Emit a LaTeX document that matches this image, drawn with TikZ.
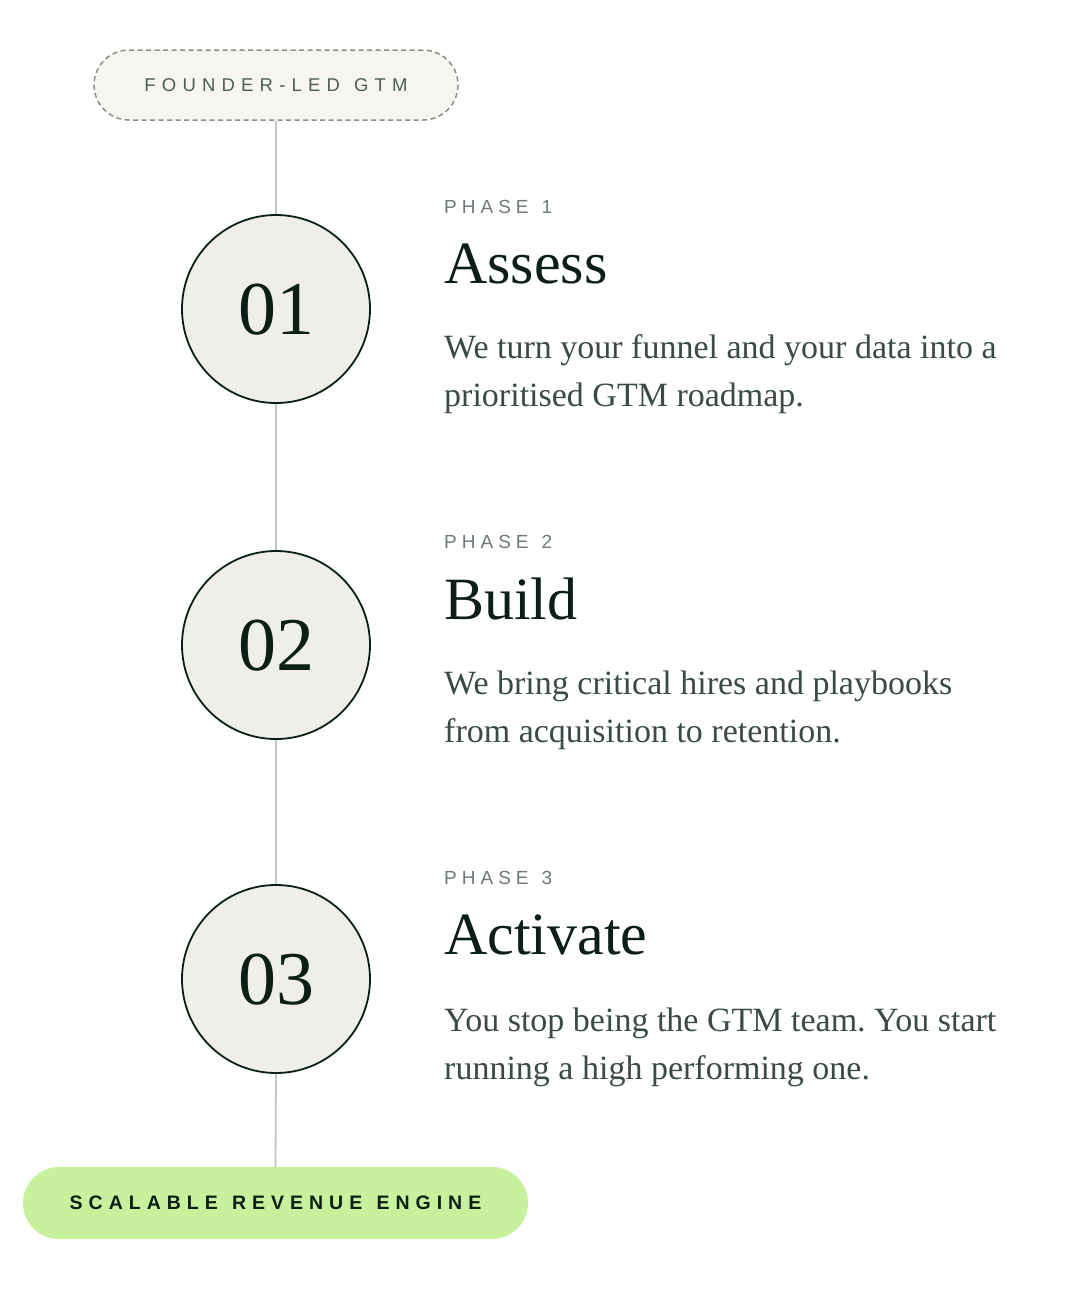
\documentclass[tikz,border=0pt]{standalone}
\usepackage{fontspec}
\setmainfont{Liberation Serif}
\newfontfamily\sansfam{Liberation Sans}
\definecolor{ink}{HTML}{0B1F17}
\definecolor{bodyc}{HTML}{3A4B45}
\definecolor{phasec}{HTML}{6E7B75}
\definecolor{tagc}{HTML}{4B5E52}
\definecolor{tagfill}{HTML}{F6F5F0}
\definecolor{tagline}{HTML}{8A8F88}
\definecolor{circfill}{HTML}{EFEEE9}
\definecolor{railc}{HTML}{C4C6C4}
\definecolor{green}{HTML}{C7F19D}
\newdimen\lskd
\newcommand{\setls}[1]{\lskd #1\relax}
\def\ls#1{\lsA#1\relax}
\def\lsA#1{\ifx\relax#1\else#1\kern\lskd\expandafter\lsA\fi}
\newcommand{\wsp}{\hspace{0.42em}}
\tikzset{
  tagpill/.style={draw=tagline, fill=tagfill, line width=1.5pt, dash pattern=on 5pt off 3.5pt,
    rounded corners=35pt, minimum width=364pt, minimum height=70pt, inner sep=0pt,
    text=tagc, font={\sansfam\fontsize{18.5}{20}\selectfont\setls{6.2pt}}},
  enginepill/.style={fill=green, rounded corners=36pt, minimum width=505pt, minimum height=72pt,
    inner sep=0pt, text=ink, font={\sansfam\bfseries\fontsize{19.5}{22}\selectfont\setls{6.0pt}}},
  phasecirc/.style={circle, draw=ink, fill=circfill, line width=1.8pt, minimum size=188pt, inner sep=0pt},
  numtxt/.style={anchor=base, inner sep=0pt, text=ink, font=\fontsize{76}{80}\selectfont},
  phaselbl/.style={anchor=base west, inner sep=0pt, text=phasec, font={\sansfam\fontsize{19}{20}\selectfont\setls{5.0pt}}},
  headtxt/.style={anchor=base west, inner sep=0pt, text=ink, font=\fontsize{60}{64}\selectfont},
  bodytxt/.style={anchor=base west, inner sep=0pt, text=bodyc, font=\frenchspacing\fontsize{34}{40}\selectfont},
  rail/.style={draw=railc, line width=1.8pt}
}
\begin{document}
\begin{tikzpicture}[x=1pt,y=-1pt]
\useasboundingbox (0,0) rectangle (1073,1291);
\fill[white] (0,0) rectangle (1073,1291);

\node[tagpill] (founder) at (276,85) {\ls{FOUNDER-LED}\wsp\ls{GTM}\unkern};
\node[phasecirc] (c1) at (276,309) {};
\node[phasecirc] (c2) at (276,645) {};
\node[phasecirc] (c3) at (276,979) {};
\node[enginepill] (engine) at (275.5,1203) {\ls{SCALABLE}\wsp\ls{REVENUE}\wsp\ls{ENGINE}\unkern};

\draw[rail] (founder.south) -- (c1.north);
\draw[rail] (c1.south) -- (c2.north);
\draw[rail] (c2.south) -- (c3.north);
\draw[rail] (c3.south) -- (engine.north);

\node[numtxt] (n1) at (276,334) {01};
\node[numtxt] (n2) at (276,670) {02};
\node[numtxt] (n3) at (276,1004) {03};

\node[phaselbl] (p1) at (444,213) {\ls{PHASE}\wsp\ls{1}\unkern};
\node[headtxt] (h1) at (444,283) {Assess};
\node[bodytxt] (b1a) at (444,358) {We turn your funnel and your data into a};
\node[bodytxt] (b1b) at (444,406) {prioritised GTM roadmap.};

\node[phaselbl] (p2) at (444,548) {\ls{PHASE}\wsp\ls{2}\unkern};
\node[headtxt] (h2) at (444,619) {Build};
\node[bodytxt] (b2a) at (444,694) {We bring critical hires and playbooks};
\node[bodytxt] (b2b) at (444,742) {from acquisition to retention.};

\node[phaselbl] (p3) at (444,884) {\ls{PHASE}\wsp\ls{3}\unkern};
\node[headtxt] (h3) at (444,954) {Activate};
\node[bodytxt] (b3a) at (444,1031) {You stop being the GTM team. You start};
\node[bodytxt] (b3b) at (444,1079) {running a high performing one.};
\end{tikzpicture}
\end{document}
